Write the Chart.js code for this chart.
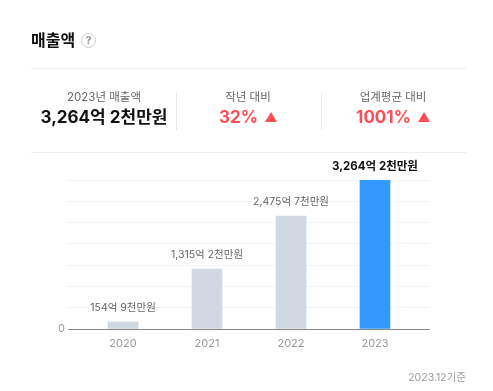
<!DOCTYPE html>
<html lang="ko">
<head>
<meta charset="utf-8">
<title>매출액</title>
<script src="https://cdn.jsdelivr.net/npm/chart.js@4"></script>
<style>
  html, body { margin: 0; padding: 0; background: #fff; }
  body { width: 493px; height: 391px; position: relative; overflow: hidden;
    font-family: Inter, "Noto Sans CJK KR", sans-serif; }
  #chart { position: absolute; left: 0; top: 0; }
  .abs { position: absolute; white-space: nowrap; }
  .title { left: 31px; top: 29px; font-size: 16px; line-height: 22px; font-weight: 700; color: #111; }
  .help { left: 81px; top: 33px; width: 13px; height: 13px; border: 1px solid #ccc; border-radius: 50%;
    font-size: 11px; line-height: 13px; font-weight: 700; text-align: center; color: #999; }
  .hr { left: 31px; width: 435px; height: 1px; background: #eee; }
  .vr { top: 93px; width: 1px; height: 37px; background: #e8e8e8; }
  .label { top: 89px; font-size: 11.5px; line-height: 16px; color: #666; text-align: center; transform: translateX(-50%); }
  .value { top: 105px; font-size: 17px; line-height: 24px; font-weight: 700; color: #111; transform: translateX(-50%); }
  .up { color: #ff4d55; }
  .foot { right: 27px; top: 370px; font-size: 10.5px; line-height: 16px; color: #999; }
  .tri { display: inline-block; width: 0; height: 0; margin-left: 3px; vertical-align: 1px;
    border-left: 6px solid transparent; border-right: 6px solid transparent; border-bottom: 10px solid #ff4d55; }
</style>
</head>
<body>
<canvas id="chart" width="493" height="391"></canvas>

<div class="abs title">매출액</div>
<div class="abs help">?</div>
<div class="abs hr" style="top:68px"></div>
<div class="abs hr" style="top:152px"></div>
<div class="abs vr" style="left:176px"></div>
<div class="abs vr" style="left:321px"></div>

<div class="abs label" style="left:104px">2023년 매출액</div>
<div class="abs value" style="left:104px">3,264억 2천만원</div>
<div class="abs label" style="left:248px">작년 대비</div>
<div class="abs value up" style="left:248px">32% <span class="tri"></span></div>
<div class="abs label" style="left:393px">업계평균 대비</div>
<div class="abs value up" style="left:393px">1001% <span class="tri"></span></div>
<div class="abs foot">2023.12기준</div>

<script>
const years = [2020, 2021, 2022, 2023];
const sales = [154.9, 1315.2, 2475.7, 3264.2];
const salesLabels = ['154억 9천만원', '1,315억 2천만원', '2,475억 7천만원', '3,264억 2천만원'];
const barColors = ['#d0d9e1', '#d0d9e1', '#d0d9e1', '#3399ff'];

// labels above the bars
const barLabels = {
  id: 'barLabels',
  afterDatasetsDraw(chart) {
    const ctx = chart.ctx;
    const bars = chart.getDatasetMeta(0).data;
    ctx.save();
    ctx.textAlign = 'center';
    ctx.textBaseline = 'middle';
    bars.forEach((bar, i) => {
      const last = i === bars.length - 1;
      ctx.font = (last ? '700 11.5px' : '10.5px') + ' Inter, "Noto Sans CJK KR", sans-serif';
      ctx.fillStyle = last ? '#111' : '#666';
      ctx.fillText(salesLabels[i], bar.x, bar.y - (last ? 13 : 14));
    });
    ctx.restore();
  }
};

new Chart(document.getElementById('chart').getContext('2d'), {
  type: 'bar',
  data: {
    labels: years,
    datasets: [{ data: sales, backgroundColor: barColors, barThickness: 30 }]
  },
  options: {
    responsive: false,
    animation: false,
    layout: { padding: { left: 48, right: 64, top: 180, bottom: 32 } },
    plugins: { legend: { display: false }, tooltip: { enabled: false } },
    scales: {
      x: {
        type: 'linear',
        offset: false,
        min: 2019.345,
        max: 2023.643,
        afterFit: (s) => { s.height = 30; },
        grid: { display: false },
        border: { color: '#888', width: 1 },
        ticks: {
          stepSize: 1,
          includeBounds: false,
          maxRotation: 0,
          padding: 0,
          color: '#999',
          font: { family: 'Inter, "Noto Sans CJK KR", sans-serif', size: 11 },
          callback: (v) => String(v)
        }
      },
      y: {
        min: 0,
        max: 3264.2,
        afterFit: (s) => { s.width = 20; },
        grid: { color: '#f2f2f2', drawTicks: false },
        border: { display: false },
        ticks: {
          stepSize: 466.3,
          padding: 3,
          color: '#a39a8e',
          font: { family: 'Inter, "Noto Sans CJK KR", sans-serif', size: 11 },
          callback: (v) => (v === 0 ? '0' : '')
        }
      }
    }
  },
  plugins: [barLabels]
});
</script>
</body>
</html>
